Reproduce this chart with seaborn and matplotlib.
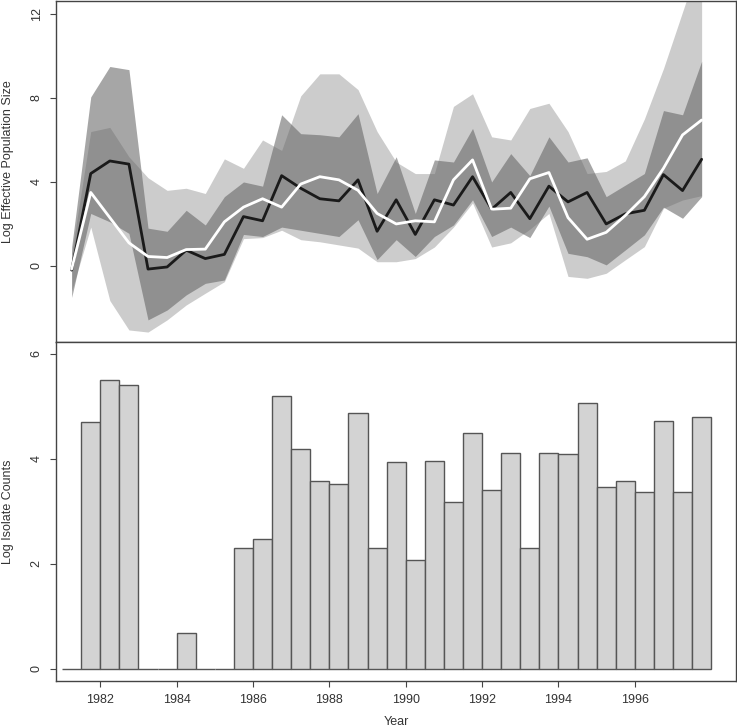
import numpy as np
import pandas as pd
import matplotlib
matplotlib.use("Agg")
import matplotlib.pyplot as plt
import seaborn as sns

# half-year bins, 1981 - 1998
mid_years = np.arange(1981.25, 1998.0, 0.5)

# top panel: black line (with its band) and white line (with its band)
black_med = [-0.2, 4.4, 5.0, 4.85, -0.15, -0.05, 0.75, 0.35, 0.55, 2.35,
             2.15, 4.3, 3.7, 3.2, 3.1, 4.1, 1.65, 3.15, 1.5, 3.15,
             2.9, 4.25, 2.7, 3.5, 2.25, 3.8, 3.05, 3.5, 2.0, 2.48,
             2.65, 4.35, 3.59, 5.08]
black_hi = [0.9, 8.05, 9.5, 9.35, 1.8, 1.65, 2.65, 1.95, 3.3, 4.0,
            3.8, 7.2, 6.3, 6.25, 6.15, 7.25, 3.45, 5.2, 2.5, 5.05,
            4.95, 6.55, 4.0, 5.35, 4.3, 6.15, 4.95, 5.15, 3.3, 3.85,
            4.4, 7.4, 7.2, 9.75]
black_lo = [-1.5, 2.5, 2.1, 1.55, -2.57, -2.1, -1.38, -0.83, -0.67, 1.5,
            1.4, 1.85, 1.7, 1.55, 1.4, 2.2, 0.3, 1.25, 0.45, 1.4,
            1.95, 3.15, 1.4, 1.85, 1.35, 2.85, 0.6, 0.44, 0.05, 0.76,
            1.48, 2.8, 2.27, 3.3]
white_med = [-0.15, 3.5, 2.3, 1.1, 0.45, 0.4, 0.78, 0.8, 2.1, 2.8,
             3.2, 2.8, 3.9, 4.25, 4.1, 3.6, 2.5, 2.0, 2.15, 2.1,
             4.1, 5.05, 2.7, 2.75, 4.15, 4.45, 2.3, 1.27, 1.6, 2.4,
             3.3, 4.65, 6.24, 6.95]
white_hi = [0.6, 6.4, 6.6, 5.2, 4.2, 3.6, 3.7, 3.45, 5.1, 4.65,
            6.0, 5.5, 8.1, 9.15, 9.15, 8.4, 6.4, 4.95, 4.4, 4.4,
            7.6, 8.2, 6.15, 6.0, 7.5, 7.75, 6.4, 4.4, 4.5, 5.0,
            7.0, 9.4, 12.1, 14.8]
white_lo = [-1.2, 1.85, -1.65, -3.05, -3.15, -2.57, -1.86, -1.3, -0.75, 1.3,
            1.35, 1.7, 1.25, 1.15, 1.0, 0.85, 0.2, 0.2, 0.35, 0.9,
            1.85, 3.0, 0.9, 1.1, 1.75, 2.5, -0.5, -0.59, -0.35, 0.29,
            0.92, 2.75, 3.14, 3.35]

# bottom panel
log_counts = [0.0, 4.70, 5.50, 5.41, 0.0, 0.0, 0.69, 0.0, 0.0, 2.30,
              2.48, 5.19, 4.19, 3.58, 3.52, 4.86, 2.30, 3.94, 2.08, 3.95,
              3.17, 4.48, 3.40, 4.11, 2.30, 4.11, 4.09, 5.06, 3.47, 3.58,
              3.37, 4.72, 3.37, 4.79]

counts_df = pd.DataFrame({"year": mid_years, "logcount": log_counts})

sns.set_theme(style="white")
plt.rcParams["font.family"] = ["Liberation Sans", "DejaVu Sans"]
txt = "#333333"
frame = "#444444"

fig = plt.figure(figsize=(7.37, 7.28), dpi=100)
W, H = 737, 728
x0, x1 = 56, 736
ax1 = fig.add_axes([x0 / W, 1 - 341.5 / H, (x1 - x0) / W, 340.5 / H])
ax2 = fig.add_axes([x0 / W, 1 - 681 / H, (x1 - x0) / W, 339.5 / H])

# --- top panel ---
band = "#636363"
ax1.fill_between(mid_years, white_lo, white_hi, color=band, alpha=0.327, lw=0)
ax1.fill_between(mid_years, black_lo, black_hi, color=band, alpha=0.57, lw=0)
sns.lineplot(x=mid_years, y=black_med, ax=ax1, color="#1a1a1a", lw=2)
sns.lineplot(x=mid_years, y=white_med, ax=ax1, color="white", lw=2)
ax1.set_xlim(1980.84, 1998.65)
ax1.set_ylim(-3.6, 12.62)
ax1.set_yticks([0, 4, 8, 12])
ax1.set_xticks([])
ax1.set_ylabel("Log Effective Population Size", fontsize=9, color=txt)
ax1.yaxis.set_label_coords(-0.062, 0.528)

# --- bottom panel ---
sns.histplot(data=counts_df, x="year", weights="logcount", binwidth=0.5,
             binrange=(1981, 1998), ax=ax2, color="#d3d3d3",
             edgecolor="#555555", linewidth=1.0, alpha=1)
ax2.set_xlim(1980.84, 1998.65)
ax2.set_ylim(-0.23, 6.23)
ax2.set_yticks([0, 2, 4, 6])
ax2.set_xticks(range(1982, 1998, 2))
ax2.set_ylabel("Log Isolate Counts", fontsize=9, color=txt)
ax2.yaxis.set_label_coords(-0.062, 0.5)
ax2.set_xlabel("Year", fontsize=9, color=txt, labelpad=7)

for ax in (ax1, ax2):
    ax.grid(False)
    for s in ax.spines.values():
        s.set_color(frame)
        s.set_linewidth(1.0)
        s.set_visible(True)
    ax.tick_params(axis="both", direction="out", length=4.5, width=0.8,
                   color=frame, labelsize=9, labelcolor=txt, pad=5,
                   left=True, bottom=True)
    for lab in ax.get_yticklabels():
        lab.set_rotation(90)
        lab.set_va("center")
ax1.tick_params(axis="x", bottom=False)

fig.savefig("out.png", dpi=100)
